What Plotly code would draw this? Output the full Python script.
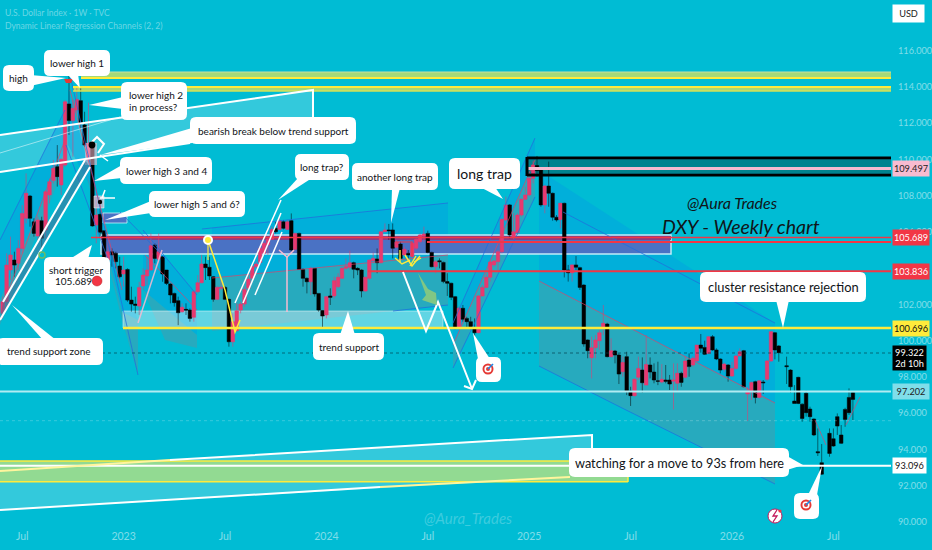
import pandas as pd
import plotly.graph_objects as go

# ---------- weekly candles ----------
opens = [101.51,102.15,103.90,104.45,104.27,105.09,106.75,107.98,106.56,105.77,
106.62,106.10,108.04,108.83,109.60,108.59,109.69,113.06,112.14,112.72,
113.24,111.90,109.97,110.79,106.38,106.97,106.07,104.45,104.91,104.82,
104.12,103.68,103.93,102.24,102.02,101.91,103.02,103.57,103.90,105.28,
104.49,104.63,103.90,103.13,102.61,102.21,101.60,101.73,101.69,101.29,
102.70,103.20,104.23,104.05,103.53,102.28,102.89,102.94,102.28,99.94,
100.55,101.69,102.02,102.89,103.44,104.08,104.32,104.82,105.28,105.59,
106.20,106.14,106.56,106.14,106.62,105.04,105.92,103.93,103.44,103.25,
103.99,102.61,101.66,101.42,102.47,102.47,102.98,103.44,103.99,104.05,
104.30,103.99,103.90,102.74,103.44,104.41,104.51,104.30,106.01,106.11,
106.11,105.15,105.33,104.73,104.82,104.64,105.10,105.46,105.78,105.92,
104.87,104.08,104.41,104.32,103.26,103.17,102.43,100.68,101.79,101.23,
101.05,100.72,100.44,102.47,102.94,103.50,104.18,104.36,104.91,106.66,
107.49,105.70,105.96,106.93,107.80,108.04,108.96,109.66,109.42,107.49,
108.53,108.13,106.81,106.69,107.58,103.90,103.75,104.18,104.03,103.07,
100.04,99.06,99.61,100.00,100.70,100.92,99.12,99.43,99.21,98.29,
99.12,97.22,96.97,97.98,98.38,97.55,98.66,98.27,97.79,97.72,
97.83,97.83,97.77,97.65,98.20,97.98,98.93,98.66,98.88,99.76,
99.63,99.30,100.22,99.49,98.99,98.42,98.66,98.05,98.47,99.17,
99.45,97.06,97.19,97.74,96.87,97.72,97.87,98.88,100.44,99.71,
None,98.62,98.38,96.67,97.98,96.50,97.10,96.23,95.68,93.88,
93.27,None,94.89,94.59,95.81,94.80,96.21,96.87,97.13]
highs = [102.43,104.82,105.74,104.91,105.55,107.48,109.23,108.04,106.75,106.84,
106.84,108.31,108.95,109.97,110.79,110.06,113.28,114.78,113.28,113.98,
113.92,112.63,113.13,110.89,108.04,107.76,106.07,105.55,105.09,104.91,
104.63,104.63,103.99,102.98,102.43,103.25,103.99,104.63,105.92,105.37,
105.92,104.67,103.90,103.16,102.65,102.43,102.06,102.06,101.78,102.79,
103.62,104.73,104.63,104.63,103.57,103.02,103.35,103.02,102.33,101.51,
102.06,102.15,102.98,103.62,104.17,104.36,105.19,105.46,105.74,106.29,
106.56,106.75,106.66,106.66,107.02,105.96,105.96,103.99,103.49,104.08,
103.99,102.61,101.69,102.47,102.89,103.53,103.72,104.08,104.54,104.97,
104.36,104.05,103.94,103.53,104.49,104.86,105.09,106.07,106.47,106.44,
106.47,105.56,105.46,105.19,105.00,105.41,105.65,105.92,106.29,106.07,
104.91,104.45,104.54,104.36,103.72,103.20,102.47,101.88,101.97,101.32,
101.32,101.23,102.52,103.07,103.72,104.45,104.45,105.00,106.75,107.95,
107.54,107.03,107.03,107.85,108.50,109.05,109.93,110.19,109.45,108.59,
109.88,108.17,106.93,107.61,107.61,104.18,104.21,104.67,104.08,103.11,
100.07,100.22,100.31,100.59,101.97,100.99,100.13,99.49,99.30,99.12,
99.39,97.46,97.92,99.12,99.08,100.31,99.08,98.75,98.84,98.71,
98.66,98.11,98.75,98.75,98.29,99.15,99.30,99.15,99.76,100.37,
100.00,100.26,100.31,99.58,99.03,98.79,98.71,98.84,99.21,99.58,
99.49,97.46,97.74,97.79,97.83,97.83,98.93,100.53,100.48,99.76,
None,99.12,98.42,97.55,98.01,96.54,97.24,96.36,95.71,95.16,
94.30,None,95.16,95.16,95.99,95.35,96.30,97.37,97.19]
lows = [101.23,101.87,103.35,103.53,103.90,104.82,106.47,106.29,105.74,105.37,
105.00,105.65,107.58,108.68,108.50,108.04,109.60,111.35,110.15,112.54,
111.71,110.70,109.97,106.29,105.37,105.74,104.45,104.27,104.08,103.99,
103.44,102.98,102.15,101.60,101.51,101.42,102.80,103.07,103.86,104.27,
104.27,103.25,103.07,102.06,101.88,100.86,101.54,101.42,101.05,101.05,
102.61,103.16,103.35,103.35,102.15,102.24,102.80,102.24,99.67,99.67,
100.50,101.51,101.88,102.80,103.35,103.99,104.17,104.73,104.73,105.55,
105.92,106.10,106.14,106.10,104.91,105.00,103.90,102.98,102.61,102.52,
102.43,101.60,100.68,101.23,101.97,102.34,102.89,103.40,103.90,103.90,
103.44,103.62,102.39,102.70,103.35,104.27,103.72,104.27,106.01,105.56,
104.54,105.10,104.45,104.67,104.54,104.54,105.00,105.37,105.46,104.82,
104.05,103.72,103.99,103.17,102.47,102.24,100.63,100.63,101.05,100.68,
100.63,100.22,100.41,102.43,102.89,103.26,104.08,103.90,104.82,106.57,
105.65,105.59,105.83,106.84,107.76,107.95,108.68,109.05,107.39,107.03,
107.39,106.62,106.57,106.20,103.49,103.26,103.26,103.90,102.80,99.67,
99.03,97.92,99.03,99.49,100.31,99.08,99.08,98.75,97.61,98.01,
97.00,96.40,96.91,97.83,97.13,97.55,97.92,97.65,97.55,97.65,
97.65,97.28,96.21,97.22,97.46,97.92,98.01,98.57,98.84,99.34,
99.21,99.26,99.45,98.93,98.20,98.29,97.74,98.01,98.38,99.12,
97.43,95.57,96.73,96.54,96.82,97.06,97.79,98.84,98.97,98.84,
None,97.61,97.13,96.54,96.50,95.53,95.81,95.53,94.74,93.64,
92.59,None,93.60,94.15,94.80,94.30,95.25,95.90,95.62]
closes = [102.15,104.17,104.73,104.17,105.09,107.02,108.13,106.75,105.92,106.66,
105.65,108.22,108.77,109.51,109.05,110.00,113.18,112.14,112.82,113.31,
112.03,110.79,110.89,106.33,106.93,105.98,104.54,104.91,104.73,104.36,
103.53,103.90,102.24,102.02,101.95,102.94,103.62,103.90,105.24,104.54,
104.91,103.68,103.16,102.52,102.10,101.54,101.84,101.69,101.23,102.70,
103.20,104.23,104.03,103.57,102.28,102.94,102.94,102.28,99.94,101.05,
101.65,102.02,102.83,103.40,104.08,104.23,105.09,105.37,105.59,106.14,
106.01,106.62,106.20,106.56,105.00,105.92,103.93,103.44,103.25,103.99,
102.58,101.69,101.36,102.43,102.39,103.31,103.50,103.99,104.08,104.30,
103.94,103.90,102.74,103.50,104.45,104.54,104.30,106.01,106.11,106.07,
105.10,105.43,104.54,105.04,104.73,105.37,105.59,105.83,105.89,104.87,
104.08,104.36,104.36,103.26,103.17,102.39,100.68,101.79,101.18,101.05,
100.77,100.44,102.47,102.94,103.50,104.34,104.40,104.91,106.69,107.49,
105.83,106.01,106.93,107.80,108.04,108.96,109.69,109.38,107.49,108.53,
108.13,106.81,106.66,107.58,103.90,103.75,104.18,104.05,102.94,99.82,
99.45,99.61,100.04,100.44,100.96,99.12,99.45,99.21,98.16,98.80,
97.24,96.97,97.87,98.47,97.68,98.69,98.27,97.83,97.76,97.87,
97.76,97.61,97.83,98.20,97.70,98.88,98.57,99.03,99.76,99.58,
99.25,100.22,99.49,98.99,98.38,98.71,98.05,98.47,99.15,99.39,
97.46,97.19,97.70,96.87,97.79,97.68,98.88,100.50,99.49,99.34,
None,98.57,97.46,96.54,96.54,95.71,96.03,95.81,94.80,93.82,
92.64,None,93.78,94.19,95.29,94.34,95.66,96.03,96.76]

first_week = "2022-05-30"
tick_dates = ["2022-07-04","2023-01-02","2023-07-03","2024-01-01","2024-07-01","2024-12-30","2025-06-30","2025-12-29","2026-06-29"]
tick_names = ["Jul","2023","Jul","2024","Jul","2025","Jul","2026","Jul"]
price_ticks = [90,92,94,96,98,100,102,106,108,110,112,114,116]

# ---------- price levels ----------
lvl_black, lvl_red1, lvl_red2, lvl_yellow, lvl_last, lvl_cyan, lvl_white = 109.497,105.689,103.836,100.696,99.322,97.202,93.096

PW, PH = 891.0, 526.0
UP, DOWN = "#E8396F", "#000000"
TXT = "#101418"
FONT = "Lato"

dates = pd.date_range(first_week, periods=len(opens), freq="7D")
week = pd.Timedelta(days=7)
x_lo = dates[0] - week * (2.7 / 3.9)
x_hi = dates[0] + week * ((PW - 2.7) / 3.9)
def price_at(py): return 100 + (340.7 - py) * 0.05516

fx = lambda x: x / PW
fy = lambda y: 1 - y / PH
shapes, notes = [], []

def path(pts, close=True):
    s = "M " + " L ".join(f"{fx(a):.5f},{fy(b):.5f}" for a, b in pts)
    return s + (" Z" if close else "")
def poly(pts, fill, layer="below", line=None, w=0):
    shapes.append(dict(type="path", xref="paper", yref="paper", path=path(pts), fillcolor=fill,
                       line=dict(color=line or "rgba(0,0,0,0)", width=w), layer=layer))
def seg(pts, color, w=1.0, dash="solid", layer="above"):
    shapes.append(dict(type="path", xref="paper", yref="paper", path=path(pts, False), fillcolor="rgba(0,0,0,0)",
                       line=dict(color=color, width=w, dash=dash), layer=layer))
def box(x0, y0, x1, y1, fill, layer="below", line=None, w=0):
    shapes.append(dict(type="rect", xref="paper", yref="paper", x0=fx(x0), x1=fx(x1), y0=fy(y1), y1=fy(y0),
                       fillcolor=fill, line=dict(color=line or "rgba(0,0,0,0)", width=w), layer=layer))
def dot(x, y, r, fill, line=None, w=0, layer="above"):
    shapes.append(dict(type="circle", xref="paper", yref="paper", x0=fx(x-r), x1=fx(x+r), y0=fy(y+r), y1=fy(y-r),
                       fillcolor=fill, line=dict(color=line or "rgba(0,0,0,0)", width=w), layer=layer))
def level(price, x0, color, w=2.0, dash="solid", x1=PW):
    shapes.append(dict(type="line", xref="paper", yref="y", x0=fx(x0), x1=fx(x1), y0=price, y1=price,
                       line=dict(color=color, width=w, dash=dash), layer="above"))
def text(x, y, s, size=10, color=TXT, italic=False, align="center", anchor="center"):
    notes.append(dict(xref="paper", yref="paper", x=fx(x), y=fy(y), text=s, showarrow=False, xanchor=anchor, yanchor="middle",
                      align=align, font=dict(family=FONT, size=size, color=color, style="italic" if italic else "normal")))
def callout(x0, y0, x1, y1, tail, s=None, size=10, r=6):
    p = (f"M {fx(x0+r):.5f},{fy(y0):.5f} L {fx(x1-r):.5f},{fy(y0):.5f} Q {fx(x1):.5f},{fy(y0):.5f} {fx(x1):.5f},{fy(y0+r):.5f} "
         f"L {fx(x1):.5f},{fy(y1-r):.5f} Q {fx(x1):.5f},{fy(y1):.5f} {fx(x1-r):.5f},{fy(y1):.5f} "
         f"L {fx(x0+r):.5f},{fy(y1):.5f} Q {fx(x0):.5f},{fy(y1):.5f} {fx(x0):.5f},{fy(y1-r):.5f} "
         f"L {fx(x0):.5f},{fy(y0+r):.5f} Q {fx(x0):.5f},{fy(y0):.5f} {fx(x0+r):.5f},{fy(y0):.5f} Z")
    poly(tail, "#FFFFFF", layer="above")
    shapes.append(dict(type="path", xref="paper", yref="paper", path=p, fillcolor="#FFFFFF",
                       line=dict(color="rgba(0,0,0,0)", width=0), layer="above"))
    if s:
        text((x0 + x1) / 2, (y0 + y1) / 2, s, size)
def target(x, y):
    dot(x, y, 5.5, "#E53935")
    dot(x, y, 3.6, "#FFFFFF")
    dot(x, y, 2.0, "#E53935")
    seg([(x, y), (x + 5, y - 5)], "#1E88E5", 1.6)

BLUE = "rgba(3,155,229,0.38)"
GREY = "rgba(130,130,140,0.30)"
BLUEL = "rgba(33,110,220,0.75)"
REDL = "rgba(233,60,100,0.65)"

# ---------- big translucent wedges ----------
poly([(0,135),(313,90),(313,125),(0,172)], "rgba(255,255,255,0.20)")
poly([(0,471),(592,435),(592,476),(0,510)], "rgba(255,255,255,0.20)")
box(0,461,628,482,"#92DA92")
box(81,72,891,78,"#A6D977")
box(73,87,891,91,"#A6D977")

# ---------- regression channels ----------
poly([(0,240),(65,110),(65,150),(0,300)], BLUE)
poly([(0,300),(65,150),(65,165),(0,325)], GREY)
poly([(68,88),(105,230),(138,320),(122,312),(92,190),(68,145)], BLUE)
poly([(92,190),(122,312),(138,320),(138,375),(122,320),(84,165)], GREY)
poly([(143,230),(197,295),(197,335),(143,290)], BLUE)
poly([(143,290),(197,335),(197,348),(165,340)], GREY)
poly([(212,228),(448,203),(448,255),(212,278)], BLUE)
poly([(212,278),(448,255),(448,305),(212,331)], GREY)
poly([(453,323),(535,138),(535,160),(453,345)], BLUE)
poly([(453,345),(535,160),(535,197),(453,368)], GREY)
poly([(539,170),(775,323),(775,403),(539,281)], BLUE)
poly([(539,281),(775,403),(775,484),(539,366)], GREY)

# ---------- zones ----------
box(123,311,443,328,"rgba(255,255,255,0.38)", line="rgba(255,255,255,0.45)", w=1)
box(101,235,671,254,"#4A72C4", line="rgba(200,240,250,0.95)", w=1.5)
box(101,236,671,240,"#8E3A80")
box(527,160,891,167,"#00838F")
box(527,170,891,173,"#00838F")
box(103,213,127,223,"#4A72C4", layer="above", line="rgba(200,240,250,0.8)", w=1)
box(85,143,97,165,"rgba(248,187,208,0.55)", layer="above")
box(94,196,104,208,"rgba(248,187,208,0.65)", layer="above", line="rgba(255,255,255,0.5)", w=1)

# ---------- channel lines ----------
for a, b in [((0,240),(65,110)), ((65,53),(138,375)), ((66,145),(110,265)), ((143,230),(197,295)), ((120,212),(165,258)),
             ((202,229),(448,203)), ((393,311),(448,305)), ((453,323),(535,138)), ((453,368),(535,197)),
             ((563,212),(775,323)), ((620,407),(775,484)), ((539,366),(620,407))]:
    seg([a, b], BLUEL, 1)
for a, b in [((5,300),(65,140)), ((70,90),(122,290)), ((145,255),(197,310)), ((212,278),(448,255)), ((453,345),(535,160)), ((539,281),(775,403)),
             ((815,420),(826,445)), ((846,425),(860,397))]:
    seg([a, b], REDL, 1)

# ---------- levels ----------
level(price_at(353), 0, "rgba(0,60,70,0.65)", 1, "dot")
level(price_at(420.7), 0, "rgba(255,255,255,0.22)", 1, "dot")
level(lvl_cyan, 0, "#B2EBF2", 2)
level(lvl_white, 0, "#FFFFFF", 2)
level(lvl_yellow, 123, "#FFEB3B", 2.5)
level(lvl_red2, 368, "#F23645", 2)
level(lvl_red1, 91, "#F23645", 1.5)
level(price_at(242), 427, "#F23645", 2.2)
level(lvl_black, 527, "#F8BBD0", 3)
for py in (158, 175):
    level(price_at(py), 527, "#000000", 3)
seg([(527,157),(527,176)], "#000000", 3)
level(price_at(78), 81, "#FFEB3B", 2)
level(price_at(72), 81, "#C5E1A5", 1)
level(price_at(87), 73, "#FFEB3B", 2)
level(price_at(91), 73, "#D4E157", 1.5)
level(price_at(461), 0, "#FFEB3B", 1.5, x1=628)
level(price_at(481.7), 0, "#FFEB3B", 1.5, x1=628)
seg([(628,476),(628,482)], "#FFEB3B", 1.5)

# ---------- white drawings ----------
seg([(0,135),(313,90),(313,125)], "#FFFFFF", 2)
seg([(0,172),(190,143)], "#FFFFFF", 2)
seg([(0,153),(120,117)], "rgba(255,255,255,0.5)", 1)
seg([(170,460),(592,435),(592,448)], "#FFFFFF", 2)
seg([(0,471),(170,460)], "#FFF59D", 2)
seg([(0,510),(380,487)], "#FFFFFF", 2)
seg([(380,487),(570,477)], "#FFF59D", 2)
poly([(3,302),(85,160),(90,167),(0,320)], "rgba(70,110,150,0.55)", layer="above")
seg([(3,302),(85,160)], "#FFFFFF", 2)
seg([(0,320),(90,167)], "#FFFFFF", 2)
seg([(235,303),(281,200)], "#FFFFFF", 1.5)
seg([(243,303),(281,213)], "#FFFFFF", 1.5)
seg([(255,295),(282,232)], "#FFFFFF", 1.5)
seg([(403,272),(426,331),(438,302),(472,389)], "#FFFFFF", 2)
seg([(464,386),(472,389),(476,380)], "#FFFFFF", 2)
seg([(91,143),(97,137),(104,144),(98,153)], "#FFFFFF", 2)
seg([(100,155),(108,161)], "#FFFFFF", 1.5)
seg([(105,190),(102,198)], "#FFFFFF", 1.5)
seg([(100,198),(115,198)], "#FFFFFF", 1.5)
seg([(287,257),(287,312)], "#F8BBD0", 1.5)
seg([(279,250),(287,257),(294,250)], "#F8BBD0", 1.5)
seg([(138,323),(162,250)], "rgba(248,187,208,0.85)", 1.5)

# ---------- yellow drawings ----------
seg([(208,240),(225,290),(235,332),(240,320)], "#FFEB3B", 1.5)
seg([(208,240),(208,260)], "#FFEB3B", 1.2)
for pts in ([(395,258),(402,264),(410,260)], [(405,255),(412,266),(420,256)], [(410,266),(416,256)], [(400,250),(400,262)], [(414,262),(421,258)]):
    seg(pts, "#FFEB3B", 1.4)
dot(208,240,4,"#FFEB3B",line="#FFFFFF",w=2)
seg([(395,242),(412,242),(412,257)], "#F23645", 1.2)
poly([(418,273),(428,289),(436,293),(437,305),(422,300),(426,295)], "#81C784", layer="above")

# ---------- little markers ----------
dot(92,145,3.4,"#000000")
dot(100,202,2.2,"#000000")
dot(42,255,3,"rgba(0,0,0,0)",line="#66BB6A",w=1.5)
poly([(64,79),(73,79),(71,83),(66,83)], "#E53935", layer="above")

# ---------- call-outs ----------
callout(3,65,34,91,[(30,75),(66,78),(30,86)],"high")
callout(44,50,110,76,[(67,74),(80,88),(78,74)],"lower high 1")
callout(121,82,187,120,[(123,97),(89,105),(123,109)])
text(127,95,"lower high 2",anchor="left"); text(127,107,"in process?",anchor="left")
callout(190,117,356,144,[(192,128),(100,155),(192,143)],"bearish break below trend support")
callout(120,157,212,184,[(122,165),(94,181),(122,178)],"lower high 3 and 4")
callout(149,191,245,217,[(151,201),(105,220),(151,213)],"lower high 5 and 6?")
callout(44,257,110,294,[(70,259),(92,245),(88,259)])
text(76,270,"short trigger"); text(73,281,"105.689")
dot(97,281,5,"#F23645",line="#B71C1C",w=0.5)
callout(-3,338,103,365,[(43,340),(12,305),(56,340)])
text(49,351,"trend support zone")
callout(295,154,349,180,[(298,178),(278,200),(312,178)],"long trap?")
callout(352,163,438,190,[(392,188),(391,223),(400,188)],"another long trap")
callout(449,158,520,189,[(480,187),(503,199),(495,187)],"long trap",14)
callout(313,333,384,360,[(340,335),(348,311),(355,335)],"trend support")
callout(476,357,501,382,[(478,359),(473,333),(490,359)])
target(488,369)
callout(794,493,819,519,[(808,495),(822,466),(817,495)])
target(806,505)
callout(700,272,866,302,[(776,300),(783,328),(789,300)],"cluster resistance rejection",12.9)
callout(569,448,789,477,[(787,456),(803,465),(787,470)],"watching for a move to 93s from here",12.7)

# lightning badge
dot(775,516,7,"#FFFFFF",line="#C2185B",w=1)
seg([(777,510),(773,516),(777,516),(773,522)], "#C2185B", 1.3)
dot(780,511,1.6,"#F23645")

# ---------- free text ----------
text(732,202,"@Aura Trades",16,italic=True)
text(741,226,"DXY - Weekly chart",19.5,italic=True)
text(468,518,"@Aura_Trades",15,"rgba(255,255,255,0.25)",italic=True)
text(3,13,"U.S. Dollar Index · 1W · TVC",8.5,"rgba(255,255,255,0.42)",anchor="left")
text(3,26,"Dynamic Linear Regression Channels (2, 2)",8.5,"rgba(255,255,255,0.42)",anchor="left")

# ---------- price tags ----------
def tag(py, s, bg, fg, h=15, w=36):
    notes.append(dict(xref="paper", yref="paper", x=892/PW, y=fy(py), text=s, showarrow=False, xanchor="left", yanchor="middle",
                      width=w, height=h, bgcolor=bg, align="center", borderpad=0, font=dict(family=FONT, size=9.2, color=fg)))
Ypx = lambda p: 340.7 - (p - 100) / 0.05516
tag(Ypx(lvl_black), f"{lvl_black:.3f}", "#F8BBD0", "#222222")
tag(Ypx(lvl_red1), f"{lvl_red1:.3f}", "#F23645", "#FFFFFF")
tag(Ypx(lvl_red2), f"{lvl_red2:.3f}", "#F23645", "#FFFFFF")
tag(Ypx(lvl_yellow), f"{lvl_yellow:.3f}", "#FFEB3B", "#111111")
tag(358, f"{lvl_last:.3f}<br>2d 10h", "#000000", "#FFFFFF", h=24, w=33)
tag(Ypx(lvl_cyan), f"{lvl_cyan:.3f}", "#80DEEA", "#222222")
tag(Ypx(lvl_white), f"{lvl_white:.3f}", "#FFFFFF", "#111111", w=33)
notes.append(dict(xref="paper", yref="paper", x=892/PW, y=fy(13), text="USD", showarrow=False, xanchor="left", yanchor="middle",
                  width=31, height=17, bgcolor="#FFFFFF", borderpad=0, font=dict(family=FONT, size=9.2, color="#222222")))

fig = go.Figure(go.Candlestick(
    x=dates, open=opens, high=highs, low=lows, close=closes, whiskerwidth=0,
    increasing=dict(fillcolor=UP, line=dict(color="rgba(232,57,111,0.55)", width=1)),
    decreasing=dict(fillcolor=DOWN, line=dict(color="rgba(0,0,0,0.5)", width=1)),
    showlegend=False))

fig.update_layout(
    width=932, height=550, margin=dict(l=0, r=41, t=0, b=24),
    paper_bgcolor="#00BCD4", plot_bgcolor="rgba(0,0,0,0)", boxgap=0.1, boxgroupgap=0,
    font=dict(family=FONT), shapes=shapes, annotations=notes, showlegend=False,
    xaxis=dict(range=[x_lo, x_hi], rangeslider=dict(visible=False), showgrid=False, zeroline=False, showline=False, automargin=False,
               tickvals=tick_dates, ticktext=tick_names, ticks="", ticklabelstandoff=2, tickfont=dict(size=10.5, color="rgba(255,255,255,0.5)")),
    yaxis=dict(range=[price_at(PH), price_at(0)], side="right", showgrid=False, zeroline=False, showline=False, automargin=False,
               tickvals=price_ticks, tickformat=".3f", ticks="", ticklabelstandoff=6,
               tickfont=dict(size=9.2, color="rgba(255,255,255,0.5)")),
)
fig.write_html("out.html", config=dict(displayModeBar=False), post_script="document.body.style.margin='0';")
